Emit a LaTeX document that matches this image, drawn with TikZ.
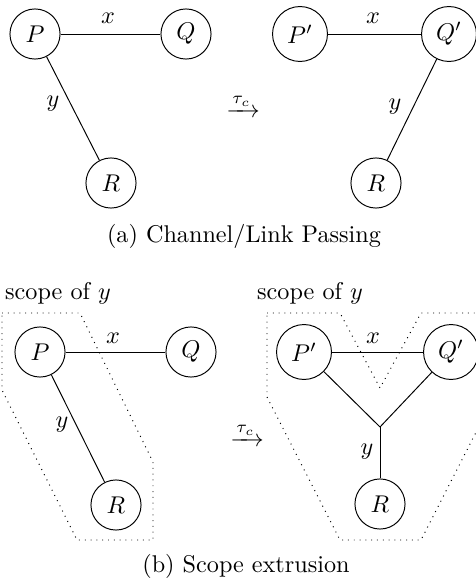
\documentclass[tikz,border=0pt]{standalone}
\usepackage{amsmath}
\begin{document}
\begin{tikzpicture}[x=0.4132pt,y=-0.4132pt,
  proc/.style={draw,circle,minimum size=20.7pt,inner sep=0pt},
  procw/.style={draw,circle,minimum size=22.7pt,inner sep=0pt},
  lbl/.style={inner sep=0pt},
  scopeline/.style={dotted}]
\useasboundingbox (0,0) rectangle (476,583);
\clip (0,0) rectangle (476,583);
% (a) left
\node[proc] (P1) at (35,34) {$P$};
\node[proc] (Q1) at (186,34) {$Q$};
\node[proc] (R1) at (111,183) {$R$};
\draw (P1) -- (Q1);
\draw (P1) -- (R1);
\node[lbl] (x1) at (108,18) {$x$};
\node[lbl] (y1) at (53,104) {$y$};
% arrow a
\node[lbl] (arrA) at (243,106) {$\xrightarrow{\tau_c}$};
% (a) right
\node[procw] (P2) at (300,34) {$P'$};
\node[procw] (Q2) at (449,34) {$Q'$};
\node[proc] (R2) at (376,183) {$R$};
\draw (P2) -- (Q2);
\draw (Q2) -- (R2);
\node[lbl] (x2) at (373,18) {$x$};
\node[lbl] (y2) at (395,107) {$y$};
\node[lbl] (capA) at (244,236) {(a) Channel/Link Passing};
% (b) left
\node[lbl] (sc1) at (58,293) {scope of $y$};
\draw[scopeline] (2,313) -- (80,313) -- (153,462) -- (153,540) -- (77,540) -- (2,390) -- cycle;
\node[proc] (P3) at (40,352) {$P$};
\node[proc] (Q3) at (191,352) {$Q$};
\node[proc] (R3) at (116,505) {$R$};
\draw (P3) -- (Q3);
\draw (P3) -- (R3);
\node[lbl] (x3) at (113,338) {$x$};
\node[lbl] (y3) at (62,425) {$y$};
% arrow b
\node[lbl] (arrB) at (247,435) {$\xrightarrow{\tau_c}$};
% (b) right
\node[lbl] (sc2) at (310,293) {scope of $y$};
\draw[scopeline] (267,313) -- (340,313) -- (380,388) -- (421,313) -- (494,313) -- (494,397) -- (421,540) -- (340,540) -- (267,397) -- cycle;
\node[procw] (P4) at (304,352) {$P'$};
\node[procw] (Q4) at (451,352) {$Q'$};
\node[proc] (R4) at (380,504) {$R$};
\coordinate (J) at (380,427);
\draw (P4) -- (Q4);
\draw (P4) -- (J);
\draw (Q4) -- (J);
\draw (J) -- (R4);
\node[lbl] (x4) at (373,338) {$x$};
\node[lbl] (y4) at (367,452) {$y$};
\node[lbl] (capB) at (246,566) {(b) Scope extrusion};
\end{tikzpicture}
\end{document}
